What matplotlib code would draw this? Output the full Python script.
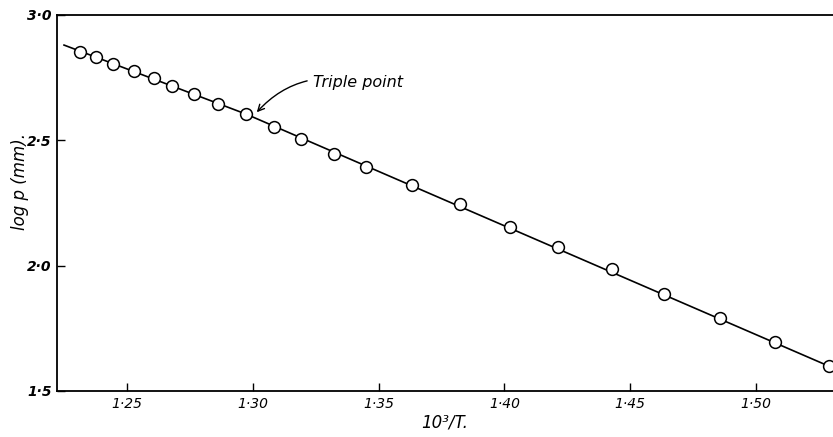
# vapour pressure plot: log p against 10^3/T

import matplotlib.pyplot as plt

inv_T = [1.2313, 1.2379, 1.2443, 1.2529, 1.2607, 1.2678, 1.2767, 1.2860,
         1.2975, 1.3085, 1.3193, 1.3323, 1.3451, 1.3632, 1.3823, 1.4024,
         1.4214, 1.4426, 1.4635, 1.4856, 1.5074, 1.5292]
log_p = [2.853, 2.831, 2.804, 2.777, 2.747, 2.716, 2.683, 2.644,
         2.604, 2.553, 2.507, 2.447, 2.393, 2.323, 2.244, 2.153,
         2.073, 1.987, 1.887, 1.791, 1.697, 1.599]

# fitted line, with a kink at the triple point
line_x = [1.225, 1.2975, 1.5306]
line_y = [2.880, 2.604, 1.592]

x_ticks = [1.25, 1.30, 1.35, 1.40, 1.45, 1.50]
y_ticks = [1.5, 2.0, 2.5, 3.0]

fig = plt.figure(figsize=(8.33, 4.37), dpi=100)
ax = fig.add_axes([0.0684, 0.1053, 0.9316, 0.8604])

ax.plot(line_x, line_y, color="black", lw=1.2, zorder=2)
ax.plot(inv_T, log_p, "o", ms=8.5, mfc="white", mec="black", mew=1.1, zorder=3)

ax.set_xlim(1.2222, 1.5306)
ax.set_ylim(1.5, 3.0)

ax.spines["right"].set_visible(False)
for s in ["left", "top", "bottom"]:
    ax.spines[s].set_linewidth(1.3)

ax.tick_params(direction="in", length=6, width=1, labelsize=10, pad=4)
ax.set_yticks(y_ticks)
ax.set_yticklabels([("%.1f" % v).replace(".", "\u00b7") for v in y_ticks],
                   fontstyle="italic", fontweight="bold")
ax.set_xticks(x_ticks)
ax.set_xticklabels([("%.2f" % v).replace(".", "\u00b7") for v in x_ticks],
                   fontstyle="italic")

ax.set_xlabel("10\u00b3/T.", fontstyle="italic", fontsize=12, labelpad=2)
ax.set_ylabel("log p (mm).", fontstyle="italic", fontsize=12)
ax.yaxis.set_label_coords(-0.036, 0.556)

ax.annotate("Triple point", xy=(1.3016, 2.612), xytext=(1.3238, 2.732),
            fontsize=11.5, fontstyle="italic", va="center", ha="left",
            arrowprops=dict(arrowstyle="->", color="black", lw=1,
                            connectionstyle="arc3,rad=0.3",
                            shrinkA=2, shrinkB=0))

plt.savefig("out.png", dpi=100)
plt.close()
